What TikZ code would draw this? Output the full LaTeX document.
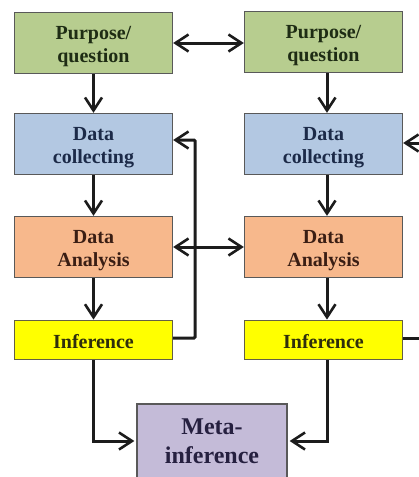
\documentclass[tikz,border=0pt]{standalone}
\usepackage{fontspec}
\setmainfont{Liberation Serif}
\usetikzlibrary{arrows.meta,calc}
\definecolor{cgreen}{HTML}{B7CD8F}
\definecolor{cblue}{HTML}{B3C8E2}
\definecolor{corange}{HTML}{F7B88C}
\definecolor{cyellow}{HTML}{FFFF00}
\definecolor{cpurple}{HTML}{C4BBD8}
\definecolor{cline}{HTML}{1C1C1C}
\definecolor{tgreen}{HTML}{1E2C14}
\definecolor{tblue}{HTML}{1C2A48}
\definecolor{torange}{HTML}{3A1E14}
\definecolor{tyellow}{HTML}{2E2E0C}
\definecolor{tpurple}{HTML}{262040}
\tikzset{
  x=1pt,y=-1pt,
  barb/.tip={Straight Barb[length=13pt,width=17pt,line width=2.6pt]},
  boxstyle/.style={draw=#1,line width=1.3pt,minimum width=158pt,inner sep=0pt,align=center,
    font=\fontsize{20}{23.5}\selectfont\bfseries,anchor=center},
  tall/.style={minimum height=61pt,execute at begin node={\rule{0pt}{43.5pt}}},
  short/.style={minimum height=39.5pt,execute at begin node={\rule{0pt}{18pt}}},
  link/.style={draw=cline,line width=3pt,-barb},
  twoway/.style={draw=cline,line width=3pt,barb-barb},
  plain/.style={draw=cline,line width=3pt},
}
\begin{document}
\begin{tikzpicture}
\useasboundingbox (0,0) rectangle (419,477);
\clip (0,0) rectangle (419,477);
\node[boxstyle=black!65,tall,fill=cgreen,text=tgreen] (pl) at (93.5,43) {Purpose/\\question};
\node[boxstyle=black!65,tall,fill=cgreen,text=tgreen] (pr) at (323.5,42) {Purpose/\\question};
\node[boxstyle=black!65,tall,fill=cblue,text=tblue] (dl) at (93.5,144) {Data\\collecting};
\node[boxstyle=black!65,tall,fill=cblue,text=tblue] (dr) at (323.5,144) {Data\\collecting};
\node[boxstyle=black!65,tall,fill=corange,text=torange] (al) at (93.5,247) {Data\\Analysis};
\node[boxstyle=black!65,tall,fill=corange,text=torange] (ar) at (323.5,247) {Data\\Analysis};
\node[boxstyle=black!70!yellow,short,fill=cyellow,text=tyellow] (il) at (93.5,340) {Inference};
\node[boxstyle=black!70!yellow,short,fill=cyellow,text=tyellow] (ir) at (323.5,340) {Inference};
\node[draw=black!65,line width=1.3pt,minimum width=150pt,minimum height=74pt,inner sep=0pt,align=center,
  fill=cpurple,text=tpurple,font=\fontsize{24}{28.5}\selectfont\bfseries] (m) at (212,441) {Meta-\\inference};
\coordinate (edgeTop) at (419,143);
\coordinate (edgeLow) at (419,338);
\coordinate (bendTop) at (195,140);
\coordinate (bendLow) at (195,338);
\draw[twoway] (pl.east) -- (pr.west |- pl.east);
\draw[link] (pl.south) -- (dl.north);
\draw[link] (dl.south) -- (al.north);
\draw[link] (al.south) -- (il.north);
\draw[link] ([xshift=3.5pt]pr.south) -- ([xshift=3.5pt]dr.north);
\draw[link] ([xshift=3.5pt]dr.south) -- ([xshift=3.5pt]ar.north);
\draw[link] ([xshift=3.5pt]ar.south) -- ([xshift=3.5pt]ir.north);
\draw[twoway] (al.east) -- (ar.west);
\draw[link,rounded corners=1pt] (il.east |- bendLow) -- (bendLow) -- (bendTop) -- (dl.east |- bendTop);
\draw[link] (edgeTop) -- (dr.east |- edgeTop);
\draw[plain] (ir.east |- edgeLow) -- (edgeLow);
\draw[link,shorten >=2pt] (il.south) |- (m.west);
\draw[link,shorten >=2pt] ([xshift=3.5pt]ir.south) |- (m.east);
\end{tikzpicture}
\end{document}
